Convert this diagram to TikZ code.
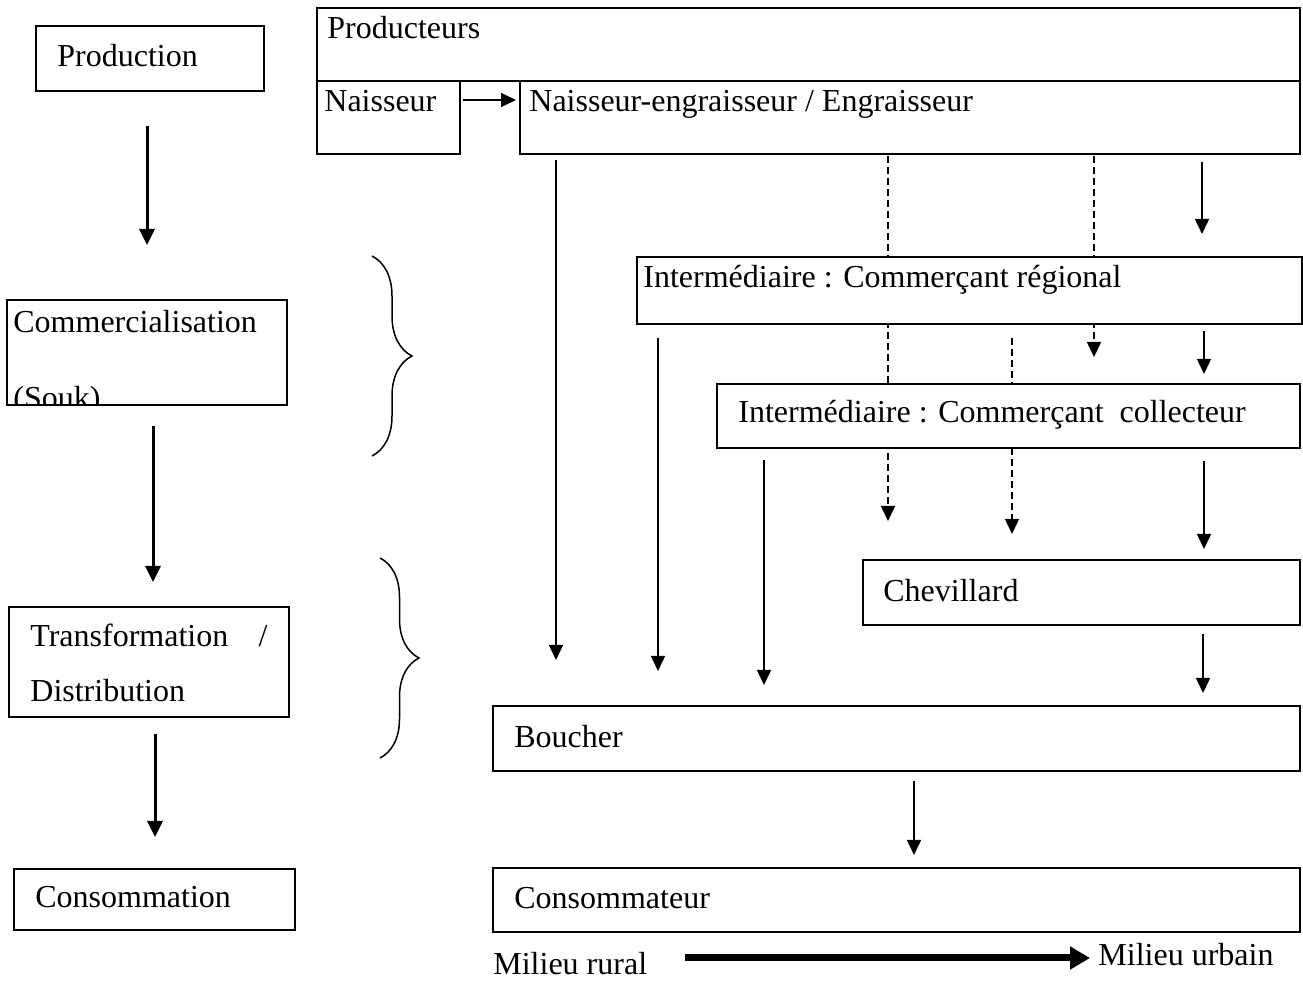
\documentclass[tikz,border=0pt]{standalone}
\usepackage{fontspec}
\setmainfont{Liberation Serif}
\usetikzlibrary{arrows.meta,calc,fit,decorations.pathreplacing}
\pgfdeclarelayer{background}
\pgfsetlayers{background,main}

\begin{document}
\begin{tikzpicture}[x=0.5pt,y=-0.5pt,
    boite/.style={draw, fill=white, line width=1pt, inner sep=0pt},
    txt/.style={inner sep=0pt, anchor=base west, font=\fontsize{16pt}{19pt}\selectfont},
    fleche/.style={-{Triangle[length=7.5pt,width=7pt]}, line width=0.75pt},
    pointille/.style={fleche, dash pattern=on 3.5pt off 2pt},
    gros/.style={-{Triangle[length=8pt,width=7.5pt]}, line width=1.5pt},
    epais/.style={-{Triangle[length=10pt,width=11pt]}, line width=3.5pt},
    accolade/.style={decorate, line width=0.75pt}]
    \useasboundingbox (0,0) rectangle (1303,983);

    % colonne de gauche : les etapes
    \node[boite, fit={(36,26) (264,91)}]   (prod)  {};
    \node[txt] (tprod) at (57,67) {Production};
    \node[boite, fit={(7,300) (287,405)}]  (comm)  {};
    \node[txt] (tcomm) at (13,333) {Commercialisation};
    \begin{scope}
        \clip (comm.north west) rectangle (comm.south east);
        \node[txt] (souk) at (13,409) {(Souk)};
    \end{scope}
    \node[boite, fit={(9,607) (289,717)}]  (trans) {};
    \node[txt] (ttrans) at (30,647) {\makebox[118.5pt][l]{Transformation\hfill/}};
    \node[txt] (tdist) at (30,702) {Distribution};
    \node[boite, fit={(14,869) (295,930)}] (cons)  {};
    \node[txt] (tcons) at (35,908) {Consommation};

    \draw[gros] ($(prod.south)+(-3,34)$) -- ($(comm.north)+(0,-54)$);
    \draw[gros] ($(comm.south)+(6,20)$) -- ($(trans.north)+(4,-24)$);
    \draw[gros] ($(trans.south)+(6,16)$) -- ($(cons.north)+(0.5,-31)$);

    % accolades
    \draw[accolade, decoration={brace,amplitude=20pt}]   (372,256) -- (372,456);
    \draw[accolade, decoration={brace,amplitude=19.5pt}] (380,558) -- (380,758);

    % les acteurs de la filiere
    \node[boite, fit={(317,8) (1300,81)}]    (prodr) {};
    \node[txt] (tprodr) at (327,39) {Producteurs};
    \node[boite, fit={(317,81) (460,154)}]   (nais)  {};
    \node[txt] (tnais) at (324,112) {Naisseur};
    \node[boite, fit={(520,81) (1300,154)}]  (ne)    {};
    \node[txt] (tne) at (529,112) {Naisseur-engraisseur / Engraisseur};
    \node[boite, fit={(637,257) (1302,324)}] (reg)   {};
    \node[txt] (treg) at (643,288) {Intermédiaire : Commerçant régional};
    \node[boite, fit={(717,384) (1300,448)}] (coll)  {};
    \node[txt] (tcoll) at (738,423) {Intermédiaire : Commerçant~ collecteur};
    \node[boite, fit={(863,560) (1300,625)}] (chev)  {};
    \node[txt] (tchev) at (883,602) {Chevillard};
    \node[boite, fit={(493,706) (1300,771)}] (bou)   {};
    \node[txt] (tbou) at (514,748) {Boucher};
    \node[boite, fit={(493,868) (1300,932)}] (consr) {};
    \node[txt] (tconsr) at (514,909) {Consommateur};

    \node[txt] (rural)  at (493,975)  {Milieu rural};
    \node[txt] (urbain) at (1098,966) {Milieu urbain};

    % circuits
    \draw[fleche] ($(nais.north east)+(2,20)$) -- ($(ne.north west)+(-3,20)$);
    \draw[fleche] ($(ne.south west)+(37,5)$)    -- ($(bou.north west)+(64,-45)$);
    \draw[fleche] ($(reg.south west)+(22,13)$)  -- ($(bou.north west)+(166,-34)$);
    \draw[fleche] ($(coll.south west)+(48,11)$) -- ($(bou.north west)+(272,-20)$);
    \draw[fleche] ($(ne.south east)+(-99,7)$)   -- ($(reg.north east)+(-101,-22)$);
    \draw[fleche] ($(reg.south east)+(-99,6)$)  -- ($(coll.north east)+(-97,-9)$);
    \draw[fleche] ($(coll.south east)+(-97,12)$) -- ($(chev.north east)+(-97,-10)$);
    \draw[fleche] ($(chev.south east)+(-98,8)$) -- ($(bou.north east)+(-98,-12)$);
    \draw[fleche] ($(bou.south west)+(422,9)$)  -- ($(consr.north west)+(422,-12)$);

    % circuits secondaires (pointilles, derriere les cadres)
    \begin{pgfonlayer}{background}
        \draw[pointille] ($(ne.south west)+(369,1)$)   -- ($(coll.south west)+(172,72)$);
        \draw[pointille] ($(ne.south east)+(-207,1)$)  -- ($(coll.north east)+(-207,-26)$);
        \draw[pointille] ($(reg.south east)+(-291,13)$) -- ($(coll.south east)+(-289,85)$);
    \end{pgfonlayer}

    \draw[epais] ($(rural.base west)+(192,-17)$) -- ($(urbain.base west)+(-8,-8)$);
\end{tikzpicture}
\end{document}
